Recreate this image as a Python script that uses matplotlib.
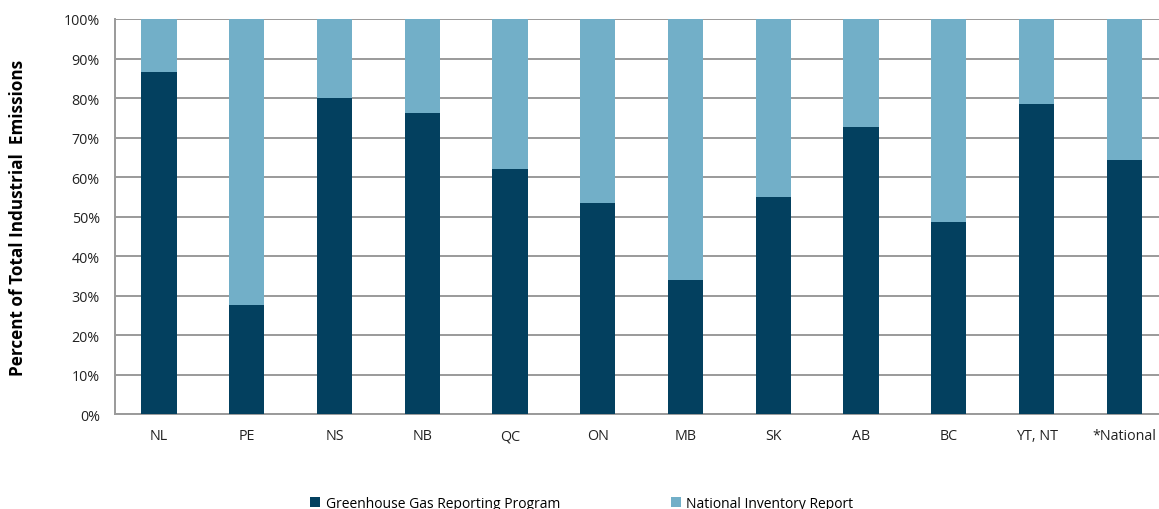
import matplotlib.pyplot as plt
from matplotlib.ticker import PercentFormatter

regions = ['NL', 'PE', 'NS', 'NB', 'QC', 'ON', 'MB', 'SK', 'AB', 'BC', 'YT, NT', '*National']
ghgrp = [86.5, 27.8, 80.0, 76.3, 62.0, 53.5, 34.0, 55.0, 72.8, 48.7, 78.6, 64.4]
nir = [100 - v for v in ghgrp]

dark = '#03405F'
light = '#72AFC8'
grid_col = '#9A9A9A'

plt.rcParams['font.family'] = ['Open Sans', 'DejaVu Sans']

fig = plt.figure(figsize=(11.59, 5.10), dpi=100)
ax = fig.add_axes([0.0993, 0.1853, 0.9086, 0.7755])

x = range(len(regions))
ax.bar(x, ghgrp, width=0.4, color=dark, label='Greenhouse Gas Reporting Program', zorder=3)
ax.bar(x, nir, width=0.4, bottom=ghgrp, color=light, label='National Inventory Report', zorder=3)

ax.set_ylim(0, 100)
ax.set_xlim(-0.5, len(regions) - 0.5)
ax.set_yticks(range(0, 101, 10))
ax.yaxis.set_major_formatter(PercentFormatter(decimals=0))
ax.set_xticks(list(x))
ax.set_xticklabels(regions)
ax.tick_params(axis='both', length=0, labelsize=10.3, colors='#222222')
ax.tick_params(axis='x', pad=10)
ax.tick_params(axis='y', pad=11)

ax.grid(axis='y', color=grid_col, linewidth=1.4, zorder=0)
for side in ['top', 'right']:
    ax.spines[side].set_visible(False)
for side in ['left', 'bottom']:
    ax.spines[side].set_color(grid_col)
    ax.spines[side].set_linewidth(1.4)

ax.set_ylabel('Percent of Total Industrial  Emissions', fontsize=12.3, fontweight='bold', labelpad=26)

fig.legend(loc='lower left', bbox_to_anchor=(0.257, -0.028), ncol=2, frameon=False,
           fontsize=10, handlelength=0.7, handleheight=0.7, handletextpad=0.4,
           columnspacing=8)

fig.savefig('out.png', dpi=100)
